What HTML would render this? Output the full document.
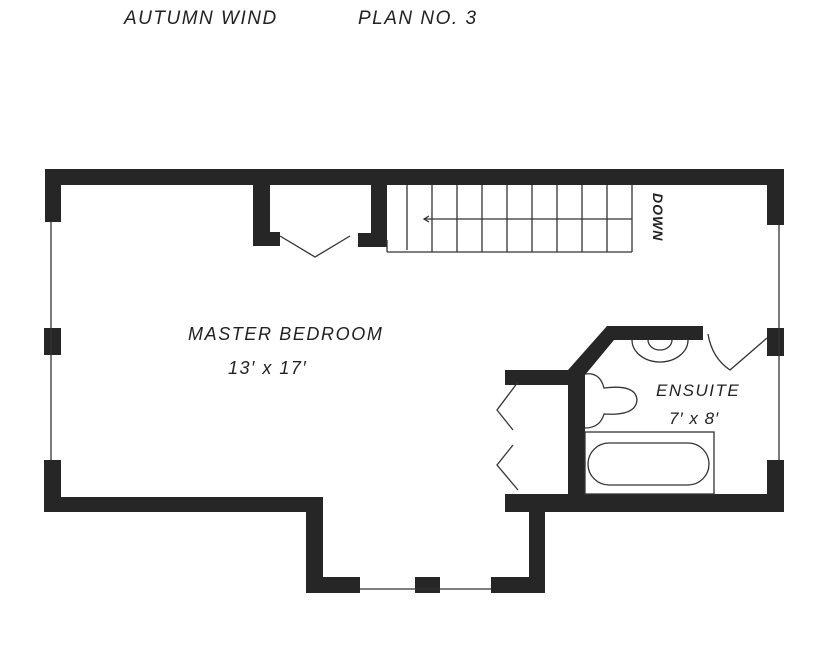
<!DOCTYPE html>
<html><head><style>
html,body{margin:0;padding:0;background:#fff;}
svg{display:block;}
text{font-family:"Liberation Sans",sans-serif;font-style:italic;fill:#222;}
</style></head><body>
<svg width="825" height="649" viewBox="0 0 825 649" xmlns="http://www.w3.org/2000/svg">
<rect width="825" height="649" fill="#fff"/>
<text x="124" y="24" font-size="19" letter-spacing="1.5">AUTUMN WIND</text>
<text x="358" y="24" font-size="19" letter-spacing="1.5">PLAN NO. 3</text>
<g fill="#262626">
<rect x="45" y="169" width="739" height="16"/>
<rect x="45" y="169" width="16" height="53"/>
<rect x="767" y="169" width="17" height="56"/>
<rect x="44" y="328" width="17" height="27"/>
<rect x="44" y="460" width="17" height="52"/>
<rect x="44" y="497" width="279" height="15"/>
<rect x="306" y="497" width="17" height="96"/>
<rect x="306" y="577" width="54" height="16"/>
<rect x="415" y="577" width="25" height="16"/>
<rect x="491" y="577" width="54" height="16"/>
<rect x="529" y="497" width="16" height="96"/>
<rect x="505" y="494" width="279" height="18"/>
<rect x="767" y="460" width="17" height="52"/>
<rect x="767" y="328" width="17" height="28"/>
<rect x="253" y="185" width="17" height="61"/>
<rect x="253" y="232" width="27" height="14"/>
<rect x="371" y="185" width="16" height="62"/>
<rect x="358" y="233" width="29" height="14"/>
<rect x="505" y="370" width="80" height="15"/>
<rect x="568" y="370" width="17" height="135"/>
<polygon points="568,370 607,326 703,326 703,340 614,340 585,375"/>
</g>
<g stroke="#333" stroke-width="1.3" fill="none">
<line x1="51" y1="222" x2="51" y2="460"/>
<line x1="779" y1="225" x2="779" y2="460"/>
<line x1="360" y1="589" x2="491" y2="589"/>
<polyline points="280,236 315,257 350,236"/>
<line x1="387" y1="252" x2="632" y2="252"/>
<line x1="387" y1="240" x2="387" y2="252"/>
<line x1="632" y1="185" x2="632" y2="252"/>
<line x1="407" y1="185" x2="407" y2="250"/>
<line x1="432" y1="185" x2="432" y2="252"/>
<line x1="457" y1="185" x2="457" y2="252"/>
<line x1="482" y1="185" x2="482" y2="252"/>
<line x1="507" y1="185" x2="507" y2="252"/>
<line x1="532" y1="185" x2="532" y2="252"/>
<line x1="557" y1="185" x2="557" y2="252"/>
<line x1="582" y1="185" x2="582" y2="252"/>
<line x1="607" y1="185" x2="607" y2="252"/>
<line x1="424" y1="219" x2="632" y2="219"/>
<polyline points="429,216 424,219 429,222"/>
<polyline points="518,382 497,410 513,430"/>
<polyline points="513,445 497,465 518,490"/>
<path d="M708,334 Q712,358 730,370 L767,338"/>
<path d="M632,340 A28,22 0 0 0 688,340"/>
<path d="M648,340 A12,10 0 0 0 672,340"/>
<path d="M585,374 Q600,372 604,388 Q636,384 637,400 Q636,416 604,414 Q600,428 585,428"/>
<rect x="585" y="432" width="129" height="62"/>
<rect x="588" y="443" width="121" height="42" rx="21"/>
</g>
<text x="0" y="0" font-size="14" font-style="normal" font-weight="bold" transform="translate(653,193) rotate(90)" letter-spacing="1">DOWN</text>
<text x="188" y="340" font-size="18" letter-spacing="1.6">MASTER BEDROOM</text>
<text x="228" y="374" font-size="18" letter-spacing="1.5">13′ x 17′</text>
<text x="656" y="396" font-size="17" letter-spacing="1.5">ENSUITE</text>
<text x="669" y="424" font-size="17" letter-spacing="1">7′ x 8′</text>
</svg>
</body></html>
